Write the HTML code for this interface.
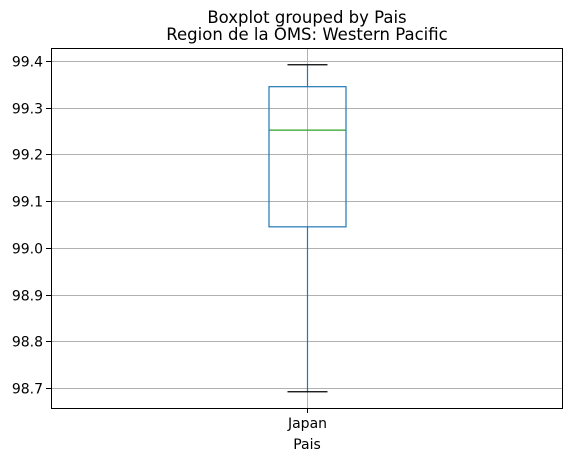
<!DOCTYPE html>
<html><head><meta charset="utf-8"><style>
body{margin:0;background:#fff;}
svg text{font-family:"DejaVu Sans","Liberation Sans",sans-serif;fill:#000;}
</style></head><body>
<svg id="c" width="572" height="461" viewBox="0 0 572 461">
<text x="307" y="23" font-size="16.5" text-anchor="middle">Boxplot grouped by Pais</text>
<text x="307" y="40" font-size="16.5" text-anchor="middle">Region de la OMS: Western Pacific</text>
<g id="grid"></g>
<g id="marks"></g>
<rect x="51.5" y="48.5" width="511" height="360" fill="none" stroke="#000" stroke-width="1"/>
<g id="axes"></g>
<text x="307" y="449" font-size="14" text-anchor="middle">Pais</text>
</svg>
<script>
const categories=["Japan"];
const q1=[99.045];
const q3=[99.345];
const medians=[99.252];
const whiskLo=[98.692];
const whiskHi=[99.392];
const yTicks=[98.7,98.8,98.9,99.0,99.1,99.2,99.3,99.4];
const NS="http://www.w3.org/2000/svg";
function y(v){return 388-(v-98.7)/0.7*327;}
function x(i){return 51+512*(i+0.5)/categories.length;}
function mk(p,t,a){const e=document.createElementNS(NS,t);for(const k in a)e.setAttribute(k,a[k]);p.appendChild(e);return e;}
const grid=document.getElementById('grid'),axes=document.getElementById('axes'),marks=document.getElementById('marks');
yTicks.forEach(t=>{
 const yy=Math.round(y(t))+0.5;
 const g=mk(grid,'line',{x1:51,x2:563,y1:yy,y2:yy,stroke:'#b0b0b0','stroke-width':1});
 
 
 const tk=mk(axes,'line',{x1:46,x2:51,y1:yy,y2:yy,stroke:'#000'});
 
 
 const tx=mk(axes,'text',{x:43,y:yy+5,'font-size':14,'text-anchor':'end'});
 tx.textContent=t.toFixed(1);
 
 
});
categories.forEach((c,i)=>{
 const cx=Math.round(x(i))+0.5;
 const g=mk(grid,'line',{x1:cx,x2:cx,y1:48,y2:408,stroke:'#b0b0b0','stroke-width':1});
 
 
 const tk=mk(axes,'line',{x1:cx,x2:cx,y1:408,y2:413,stroke:'#000'});
 
 
 const tx=mk(axes,'text',{x:cx,y:428,'font-size':14,'text-anchor':'middle'});
 tx.textContent=c;
 
 
 const hw=38.5,cw=20;
 const blue='#1f77b4';
 const w1=mk(marks,'line',{x1:cx,x2:cx,y1:y(whiskLo[i]),y2:y(q1[i]),stroke:blue,'stroke-width':1.2});
 
 
 const w2=mk(marks,'line',{x1:cx,x2:cx,y1:y(q3[i]),y2:y(whiskHi[i]),stroke:blue,'stroke-width':1.2});
 
 
 const c1=mk(marks,'line',{x1:cx-cw,x2:cx+cw,y1:y(whiskLo[i]),y2:y(whiskLo[i]),stroke:'#000','stroke-width':1.2});
 
 
 const c2=mk(marks,'line',{x1:cx-cw,x2:cx+cw,y1:y(whiskHi[i]),y2:y(whiskHi[i]),stroke:'#000','stroke-width':1.2});
 
 
 const b=mk(marks,'rect',{x:cx-hw,y:y(q3[i]),width:2*hw,height:y(q1[i])-y(q3[i]),fill:'none',stroke:blue,'stroke-width':1.2});
 
 
 const m=mk(marks,'line',{x1:cx-hw,x2:cx+hw,y1:y(medians[i]),y2:y(medians[i]),stroke:'#2ca02c','stroke-width':1.2});
 
 
});
</script>
</body></html>
